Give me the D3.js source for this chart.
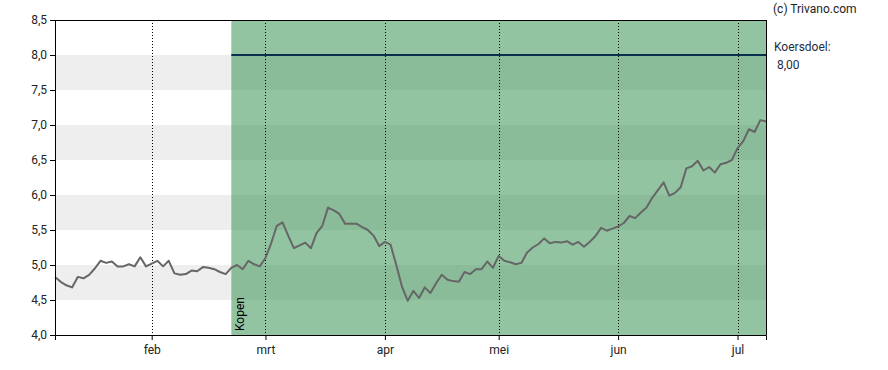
<!DOCTYPE html>
<html>
<head>
<meta charset="utf-8">
<script src="https://cdn.jsdelivr.net/npm/d3@7"></script>
<style>
  body { margin: 0; background: #fff; }
  text { font-family: Roboto, "Liberation Sans", sans-serif; }
</style>
</head>
<body>
<div id="chart"></div>
<script>
// closing prices, one per trading day (9 jan .. 8 jul)
let prices = [
  4.83, 4.76, 4.71, 4.68, 4.83, 4.81, 4.86, 4.95, 5.06, 5.03,
  5.05, 4.98, 4.98, 5.01, 4.98, 5.11, 4.98, 5.02, 5.06, 4.98,
  5.06, 4.88, 4.86, 4.87, 4.92, 4.91, 4.97, 4.96, 4.94, 4.90,
  4.87, 4.96, 5.00, 4.94, 5.06, 5.01, 4.98, 5.10, 5.31, 5.56,
  5.61, 5.42, 5.24, 5.28, 5.32, 5.24, 5.46, 5.56, 5.82, 5.78,
  5.73, 5.59, 5.59, 5.59, 5.54, 5.50, 5.42, 5.27, 5.33, 5.29,
  5.00, 4.69, 4.49, 4.63, 4.53, 4.68, 4.60, 4.74, 4.86, 4.79,
  4.77, 4.76, 4.90, 4.87, 4.94, 4.94, 5.05, 4.96, 5.13, 5.06,
  5.04, 5.01, 5.03, 5.18, 5.25, 5.30, 5.38, 5.31, 5.33, 5.32,
  5.34, 5.29, 5.33, 5.26, 5.33, 5.41, 5.53, 5.49, 5.52, 5.55,
  5.60, 5.70, 5.67, 5.75, 5.82, 5.96, 6.07, 6.18, 5.99, 6.03,
  6.11, 6.38, 6.41, 6.49, 6.35, 6.40, 6.32, 6.44, 6.46, 6.50,
  6.67, 6.77, 6.94, 6.90, 7.07, 7.05
];

// first trading day of each month (index into prices)
let monthIndex = [17, 37, 58, 78, 99, 120];
let monthLabels = ["feb", "mrt", "apr", "mei", "jun", "jul"];

let yTicks = [4.0, 4.5, 5.0, 5.5, 6.0, 6.5, 7.0, 7.5, 8.0, 8.5];
let bands = [[4.5, 5.0], [5.5, 6.0], [6.5, 7.0], [7.5, 8.0]];

let signalIndex = 31;       // "Kopen" advice from here on
let signalLabel = "Kopen";
let target = 8.00;          // koersdoel

let margin = {top: 20, right: 122, bottom: 35, left: 55},
  width = 888 - margin.left - margin.right,
  height = 370 - margin.top - margin.bottom;

let svg = d3.select("#chart")
.append("svg")
  .attr("width", 888)
  .attr("height", 370)
.append("g")
  .attr("transform", "translate(" + margin.left + "," + margin.top + ")");

let x = d3.scaleLinear()
  .domain([0, prices.length - 1])
  .range([0, width]);

let y = d3.scaleLinear()
  .domain([4, 8.5])
  .range([height, 0]);

let comma = function(d) { return d3.format(".1f")(d).replace(".", ","); };

// grey horizontal bands
svg.selectAll("rect.band")
  .data(bands)
  .enter()
  .append("rect")
    .attr("class", "band")
    .attr("x", 0)
    .attr("width", width)
    .attr("y", function(d) { return y(d[1]); })
    .attr("height", function(d) { return y(d[0]) - y(d[1]); })
    .style("fill", "#eeeeee");

// green "kopen" zone
svg.append("rect")
  .attr("x", x(signalIndex))
  .attr("y", 0)
  .attr("width", width - x(signalIndex))
  .attr("height", height)
  .style("fill", "rgb(49,144,80)")
  .style("fill-opacity", 0.53);

// dotted month lines
svg.selectAll("line.grid")
  .data(monthIndex)
  .enter()
  .append("line")
    .attr("class", "grid")
    .attr("x1", function(d) { return Math.round(x(d)) + 0.5; })
    .attr("x2", function(d) { return Math.round(x(d)) + 0.5; })
    .attr("y1", 0)
    .attr("y2", height)
    .style("stroke", "#000")
    .style("stroke-width", 1)
    .style("stroke-dasharray", "1,2");

// target line
svg.append("line")
  .attr("x1", x(signalIndex))
  .attr("x2", width)
  .attr("y1", y(target))
  .attr("y2", y(target))
  .style("stroke", "#0b2f4f")
  .style("stroke-width", 2);

// price line
let line = d3.line()
  .x(function(d, i) { return x(i); })
  .y(function(d) { return y(d); });

svg.append("path")
  .datum(prices)
  .attr("d", line)
  .style("fill", "none")
  .style("stroke", "#666666")
  .style("stroke-width", 2)
  .style("stroke-linejoin", "round");

// signal label
svg.append("text")
  .attr("transform", "translate(" + (x(signalIndex) + 13) + "," + (height - 4) + ") rotate(-90)")
  .text(signalLabel)
  .attr("font-size", "12px")
  .attr("fill", "#000");

// axes
let yAxis = svg.append("g")
  .call(d3.axisLeft(y).tickValues(yTicks).tickFormat(comma).tickSize(5).tickPadding(3));

let xAxis = svg.append("g")
  .attr("transform", "translate(0," + height + ")")
  .call(d3.axisBottom(x).tickValues(monthIndex)
    .tickFormat(function(d, i) { return monthLabels[i]; })
    .tickSize(5).tickPadding(5));

svg.selectAll(".tick text")
  .attr("font-size", "12px")
  .attr("font-family", "Roboto, 'Liberation Sans', sans-serif")
  .attr("fill", "#222");
svg.selectAll(".domain, .tick line").style("stroke", "#000");

// frame: top and right
svg.append("line")
  .attr("x1", 0).attr("x2", width + 0.5)
  .attr("y1", 0.5).attr("y2", 0.5)
  .style("stroke", "#000");
svg.append("line")
  .attr("x1", width + 0.5).attr("x2", width + 0.5)
  .attr("y1", 0).attr("y2", height)
  .style("stroke", "#000");

// right hand texts
let side = d3.select("svg");
side.append("text")
  .attr("x", 773).attr("y", 13)
  .text("(c) Trivano.com")
  .attr("font-size", "12px")
  .attr("fill", "#222");
side.append("text")
  .attr("x", 774).attr("y", 51)
  .text("Koersdoel:")
  .attr("font-size", "12px")
  .attr("fill", "#1d2f44");
side.append("text")
  .attr("x", 777).attr("y", 69)
  .text(comma2(target))
  .attr("font-size", "12px")
  .attr("fill", "#1d2f44");

function comma2(v) { return d3.format(".2f")(v).replace(".", ","); }
</script>
</body>
</html>
